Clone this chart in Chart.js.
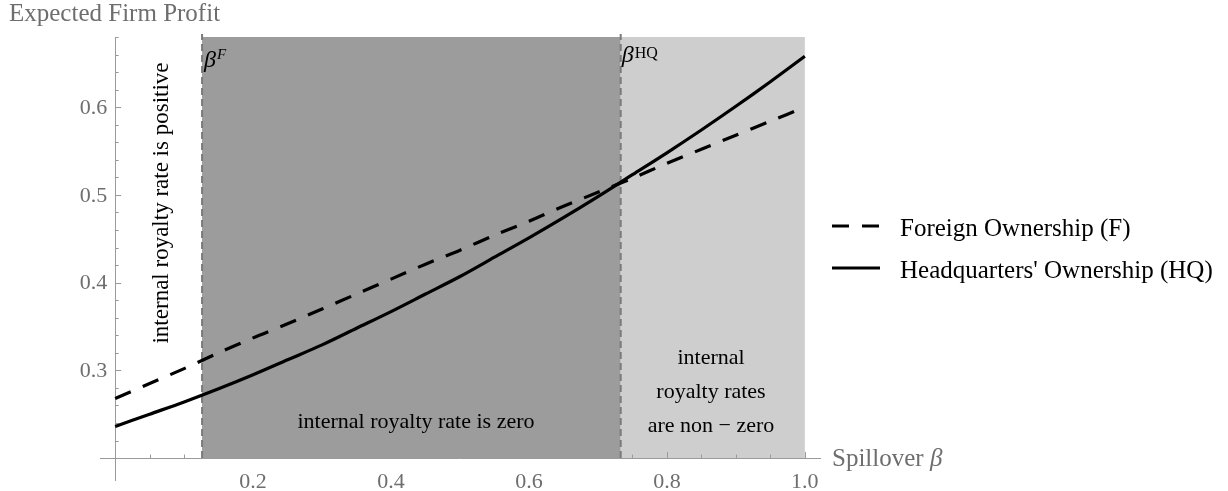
<!DOCTYPE html>
<html>
<head>
<meta charset="utf-8">
<script src="https://cdn.jsdelivr.net/npm/chart.js@4.4.0/dist/chart.umd.min.js"></script>
<style>
  html, body { margin: 0; padding: 0; background: #fff; }
  #wrap { width: 1228px; height: 491px; }
</style>
</head>
<body>
<div id="wrap"><canvas id="profitChart" width="1228" height="491"></canvas></div>
<script>
// Spillover beta and expected profit under each ownership form
const spillover = [0, 0.05, 0.1, 0.15, 0.2, 0.25, 0.3, 0.35, 0.4, 0.45, 0.5,
  0.55, 0.6, 0.65, 0.7, 0.75, 0.8, 0.85, 0.9, 0.95, 1.0];
const foreignProfit = [0.268, 0.285, 0.302, 0.320, 0.337, 0.353, 0.370, 0.387, 0.404, 0.421, 0.437,
  0.454, 0.470, 0.487, 0.503, 0.519, 0.536, 0.552, 0.568, 0.584, 0.600];
const hqProfit = [0.236, 0.250, 0.264, 0.279, 0.295, 0.312, 0.329, 0.348, 0.367, 0.387, 0.407,
  0.429, 0.451, 0.474, 0.498, 0.523, 0.548, 0.574, 0.601, 0.629, 0.658];

// thresholds
const betaF = 0.126;
const betaHQ = 0.733;

const xTickLabels = [0.2, 0.4, 0.6, 0.8, 1.0];
const yTickLabels = [0.3, 0.4, 0.5, 0.6];

const SERIF = "'Liberation Serif', 'Times New Roman', serif";
const AXIS_GRAY = '#9a9a9a';
const LABEL_GRAY = '#6e6e6e';

// shaded regions, thresholds, minor ticks, labels, legend
const decorations = {
  id: 'decorations',
  beforeDraw(chart) {
    const { ctx, scales: { x, y } } = chart;
    const top = y.getPixelForValue(y.max);
    const base = y.getPixelForValue(0.2);
    const xF = x.getPixelForValue(betaF);
    const xHQ = x.getPixelForValue(betaHQ);
    const xEnd = x.getPixelForValue(1);
    ctx.save();
    ctx.fillStyle = '#9c9c9c';
    ctx.fillRect(xF, top, xHQ - xF, base - top);
    ctx.fillStyle = '#cecece';
    ctx.fillRect(xHQ, top, xEnd - xHQ, base - top);
    ctx.restore();
  },
  beforeDatasetsDraw(chart) {
    const { ctx, scales: { x, y } } = chart;
    const base = y.getPixelForValue(0.2);
    const axisX = x.getPixelForValue(0);
    ctx.save();
    // tick marks, pointing into the plot
    ctx.strokeStyle = AXIS_GRAY;
    ctx.lineWidth = 1;
    for (let i = 0; i <= 20; i++) {
      const v = i * 0.05;
      const px = Math.round(x.getPixelForValue(v)) + 0.5;
      const len = i % 4 === 0 && i > 0 ? 6 : 3.5;
      ctx.beginPath();
      ctx.moveTo(px, base);
      ctx.lineTo(px, base - len);
      ctx.stroke();
    }
    for (let i = 11; i <= 34; i++) {
      const v = i * 0.02;
      const py = Math.round(y.getPixelForValue(v)) + 0.5;
      const len = i % 5 === 0 ? 6 : 3.5;
      ctx.beginPath();
      ctx.moveTo(axisX, py);
      ctx.lineTo(axisX + len, py);
      ctx.stroke();
    }
    // y tick labels, right-aligned left of the axis
    ctx.fillStyle = LABEL_GRAY;
    ctx.font = '22px ' + SERIF;
    ctx.textAlign = 'right';
    ctx.textBaseline = 'middle';
    y.ticks.forEach(t => {
      ctx.fillText(t.value.toFixed(1), axisX - 8, y.getPixelForValue(t.value) + 1);
    });
    // threshold lines
    ctx.strokeStyle = '#7a7a7a';
    ctx.lineWidth = 2;
    ctx.setLineDash([7, 4]);
    [betaF, betaHQ].forEach(b => {
      const px = x.getPixelForValue(b);
      ctx.beginPath();
      ctx.moveTo(px, base);
      ctx.lineTo(px, y.getPixelForValue(y.max) - 3);
      ctx.stroke();
    });
    ctx.restore();
  },
  afterDraw(chart) {
    const { ctx, scales: { x, y } } = chart;
    ctx.save();
    // axis titles
    ctx.fillStyle = LABEL_GRAY;
    ctx.textAlign = 'left';
    ctx.textBaseline = 'alphabetic';
    ctx.font = '25px ' + SERIF;
    ctx.fillText('Expected Firm Profit', 9, 21);
    ctx.fillText('Spillover ', 832, 466);
    const sw = ctx.measureText('Spillover ').width;
    ctx.font = 'italic 25px ' + SERIF;
    ctx.fillText('\u03B2', 832 + sw, 466);

    // threshold labels
    ctx.fillStyle = '#000';
    const xF = x.getPixelForValue(betaF);
    const xHQ = x.getPixelForValue(betaHQ);
    ctx.font = 'italic 24px ' + SERIF;
    ctx.fillText('\u03B2', xF + 2, 67);
    let bw = ctx.measureText('\u03B2').width;
    ctx.font = 'italic 15px ' + SERIF;
    ctx.fillText('F', xF + 3 + bw, 59);
    ctx.font = 'italic 24px ' + SERIF;
    ctx.fillText('\u03B2', xHQ + 1, 62);
    bw = ctx.measureText('\u03B2').width;
    ctx.font = '16px ' + SERIF;
    ctx.fillText('HQ', xHQ + 2 + bw, 58);

    // region notes
    ctx.textAlign = 'center';
    ctx.textBaseline = 'middle';
    ctx.save();
    ctx.font = '23px ' + SERIF;
    ctx.translate(162, 203);
    ctx.rotate(-Math.PI / 2);
    ctx.fillText('internal royalty rate is positive', 0, 0);
    ctx.restore();
    ctx.font = '22px ' + SERIF;
    ctx.fillText('internal royalty rate is zero', 416, 422);
    const cx = 711;
    ctx.fillText('internal', cx, 358);
    ctx.fillText('royalty rates', cx, 392);
    ctx.fillText('are non \u2212 zero', cx, 426);

    // legend
    const ds = chart.data.datasets;
    ctx.textAlign = 'left';
    ctx.textBaseline = 'alphabetic';
    ctx.font = '25px ' + SERIF;
    [[226, 236], [268, 278]].forEach(([ly, ty], i) => {
      ctx.strokeStyle = ds[i].borderColor;
      ctx.lineWidth = ds[i].borderWidth;
      ctx.setLineDash(ds[i].borderDash || []);
      ctx.beginPath();
      ctx.moveTo(832, ly);
      ctx.lineTo(880, ly);
      ctx.stroke();
      ctx.fillStyle = '#000';
      ctx.fillText(ds[i].label, 900, ty);
    });
    ctx.restore();
  }
};

const ctx = document.getElementById('profitChart').getContext('2d');
new Chart(ctx, {
  type: 'scatter',
  data: {
    datasets: [
      {
        label: 'Foreign Ownership (F)',
        data: spillover.map((b, i) => ({ x: b, y: foreignProfit[i] })),
        showLine: true,
        borderColor: '#000',
        borderWidth: 3.2,
        borderDash: [17, 13],
        pointRadius: 0,
        tension: 0.3
      },
      {
        label: "Headquarters' Ownership (HQ)",
        data: spillover.map((b, i) => ({ x: b, y: hqProfit[i] })),
        showLine: true,
        borderColor: '#000',
        borderWidth: 3.2,
        pointRadius: 0,
        tension: 0.3
      }
    ]
  },
  options: {
    responsive: false,
    animation: false,
    devicePixelRatio: 1,
    events: [],
    layout: { padding: { left: 100, right: 408, top: 37, bottom: 11 } },
    plugins: { legend: { display: false }, tooltip: { enabled: false } },
    scales: {
      x: {
        type: 'linear',
        min: -0.022,
        max: 1.022,
        position: { y: 0.2 },
        afterFit: s => { s.height = 0; },
        afterBuildTicks: s => { s.ticks = xTickLabels.map(v => ({ value: v })); },
        grid: { display: true, drawOnChartArea: false, drawTicks: true, tickLength: 11, tickColor: 'rgba(0,0,0,0)' },
        border: { color: AXIS_GRAY, width: 1 },
        ticks: {
          padding: 0,
          color: LABEL_GRAY,
          font: { family: SERIF, size: 22 },
          callback: v => v.toFixed(1)
        }
      },
      y: {
        type: 'linear',
        min: 0.175,
        max: 0.68,
        position: { x: 0 },
        afterFit: s => { s.width = 0; },
        afterBuildTicks: s => { s.ticks = yTickLabels.map(v => ({ value: v })); },
        grid: { display: false },
        border: { color: AXIS_GRAY, width: 1 },
        ticks: { display: false }
      }
    }
  },
  plugins: [decorations]
});
</script>
</body>
</html>
